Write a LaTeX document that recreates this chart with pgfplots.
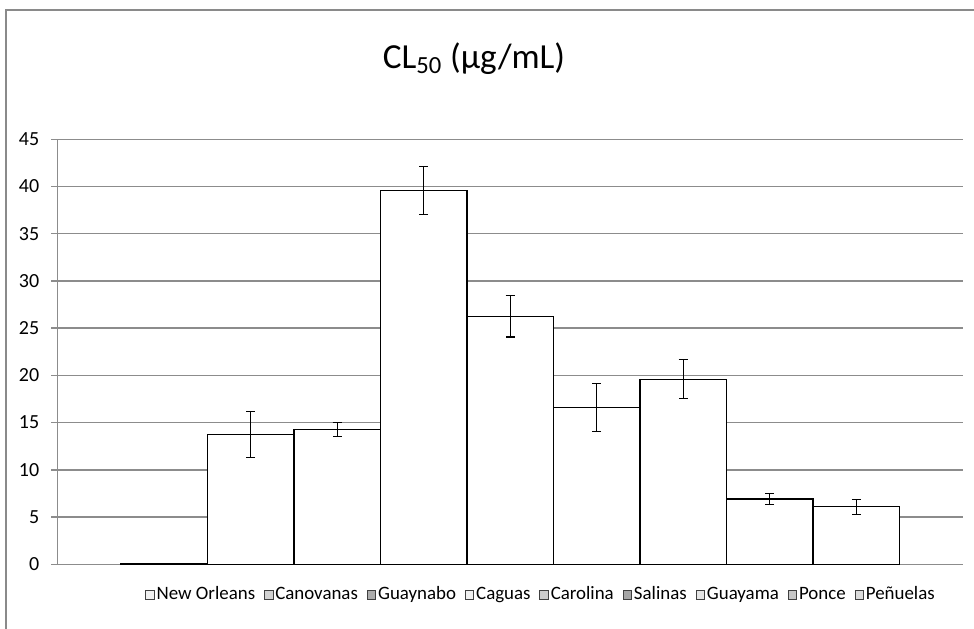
\documentclass[border=0pt]{standalone}
\usepackage{fontspec}
\setmainfont{Carlito}
\usepackage{pgfplots}
\pgfplotsset{compat=1.18}
\definecolor{gridc}{HTML}{8C8C8C}
\definecolor{framec}{HTML}{8A8A8A}
\pgfplotsset{
  mybar/.style={ybar, bar width=1, draw=black, fill=white, line width=0.7pt,
    legend image code/.code={\draw[black!75, line width=0.4pt, fill=#1] (0pt,-2.4pt) rectangle (4.6pt,2.2pt);},
    error bars/.cd, y dir=both, y explicit,
    error bar style={black, line width=0.65pt},
    error mark options={rotate=90, mark size=2.4pt, line width=0.65pt, black}}
}
\begin{document}
\begin{tikzpicture}
\useasboundingbox (0,0) rectangle (525.96pt,339.66pt);
\draw[framec, line width=1.1pt] (3.24pt,0) -- (3.24pt,334.26pt) -- (525.96pt,334.26pt);
\begin{axis}[
  at={(30.94pt,34.94pt)}, anchor=south west,
  scale only axis, width=489.1pt, height=229.5pt,
  xmin=-1.235, xmax=9.235, ymin=0, ymax=45,
  axis x line*=bottom, axis y line*=left,
  xtick=\empty,
  ytick={0,5,...,45},
  ymajorgrids, grid style={gridc, line width=0.8pt},
  tick align=outside, major tick length=3.2pt,
  ytick style={gridc, line width=0.8pt},
  axis line style={gridc, line width=0.8pt},
  tick label style={font=\fontsize{10.8}{12}\selectfont},
  /pgf/number format/assume math mode=true,
  yticklabel style={xshift=-3pt},
  legend columns=9,
  legend cell align=left,
  legend style={draw=none, fill=none, font=\fontsize{10.2}{12}\selectfont,
    at={(0.533,-0.072)}, anchor=center,
    nodes={inner xsep=0pt, inner ysep=1pt, text height=0.75em, text depth=0.2em},
    /tikz/every odd column/.append style={column sep=1.1pt},
    /tikz/every even column/.append style={column sep=4.8pt}},
  clip=false,
]
\addplot[mybar=gray!12] coordinates {(0,0.05) +- (0,0.05)};
\addlegendentry{New Orleans}
\addplot[mybar=gray!35] coordinates {(1,13.75) +- (0,2.45)};
\addlegendentry{Canovanas}
\addplot[mybar=gray!65] coordinates {(2,14.26) +- (0,0.75)};
\addlegendentry{Guaynabo}
\addplot[mybar=gray!12] coordinates {(3,39.55) +- (0,2.55)};
\addlegendentry{Caguas}
\addplot[mybar=gray!40] coordinates {(4,26.27) +- (0,2.2)};
\addlegendentry{Carolina}
\addplot[mybar=gray!70] coordinates {(5,16.59) +- (0,2.53)};
\addlegendentry{Salinas}
\addplot[mybar=gray!20] coordinates {(6,19.6) +- (0,2.05)};
\addlegendentry{Guayama}
\addplot[mybar=gray!45] coordinates {(7,6.92) +- (0,0.55)};
\addlegendentry{Ponce}
\addplot[mybar=gray!28] coordinates {(8,6.1) +- (0,0.8)};
\addlegendentry{Peñuelas}
\end{axis}
\node[anchor=base, font=\fontsize{19}{22}\selectfont, inner sep=0pt] at (255.96pt,302.4pt) {CL\textsubscript{50} (μg/mL)};
\end{tikzpicture}
\end{document}
